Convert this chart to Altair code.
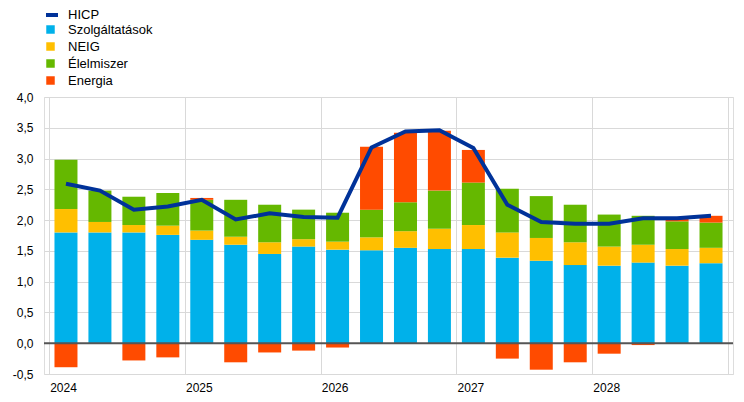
import altair as alt
import pandas as pd

quarters = ["2024Q1", "2024Q2", "2024Q3", "2024Q4",
            "2025Q1", "2025Q2", "2025Q3", "2025Q4",
            "2026Q1", "2026Q2", "2026Q3", "2026Q4",
            "2027Q1", "2027Q2", "2027Q3", "2027Q4",
            "2028Q1", "2028Q2", "2028Q3", "2028Q4"]

services = [1.80, 1.80, 1.80, 1.76, 1.68, 1.60, 1.45, 1.57, 1.52, 1.51,
            1.55, 1.53, 1.53, 1.39, 1.34, 1.27, 1.26, 1.31, 1.26, 1.30]
neig = [0.38, 0.17, 0.12, 0.15, 0.15, 0.13, 0.19, 0.12, 0.13, 0.21,
        0.27, 0.33, 0.39, 0.41, 0.37, 0.37, 0.31, 0.29, 0.27, 0.25]
food = [0.80, 0.51, 0.46, 0.53, 0.50, 0.60, 0.61, 0.48, 0.47, 0.45,
        0.47, 0.62, 0.69, 0.71, 0.68, 0.61, 0.52, 0.47, 0.45, 0.41]
energy = [-0.39, 0.00, -0.28, -0.23, 0.03, -0.31, -0.15, -0.12, -0.07, 1.02,
          1.13, 0.97, 0.53, -0.25, -0.43, -0.31, -0.17, -0.03, 0.04, 0.11]
hicp = [2.59, 2.48, 2.17, 2.22, 2.33, 2.01, 2.11, 2.05, 2.04, 3.18,
        3.44, 3.46, 3.17, 2.25, 1.97, 1.94, 1.94, 2.03, 2.03, 2.07]

comp_names = ["Szolgáltatások", "NEIG", "Élelmiszer", "Energia"]
comp_colors = ["#00B1EA", "#FFBF00", "#65B800", "#FF4B00"]
hicp_name = "HICP"
hicp_color = "#003299"

year_ticks = [2024, 2025, 2026, 2027, 2028, 2029]
y_ticks = [-0.5, 0.0, 0.5, 1.0, 1.5, 2.0, 2.5, 3.0, 3.5, 4.0]
projection_start = [2026.25]
zero_line = [0.0]

FONT = "Liberation Sans, Arial, sans-serif"


def qpos(label):
    yr = int(label[:4])
    q = int(label[-1])
    return yr + (q - 1) / 4 + 0.125


rows = []
for i, lab in enumerate(quarters):
    for k, (name, vals) in enumerate(zip(comp_names, [services, neig, food, energy])):
        rows.append({"t": qpos(lab), "comp": name, "val": vals[i], "ord": k})
bars_df = pd.DataFrame(rows)
line_df = pd.DataFrame({"t": [qpos(q) for q in quarters], "val": hicp,
                        "series": [hicp_name] * len(quarters)})

x_enc = alt.X(
    "t:Q",
    scale=alt.Scale(domain=[2024, 2029], nice=False, zero=False),
    axis=alt.Axis(
        values=year_ticks, grid=True, gridColor="#d9d9d9", gridWidth=1,
        domain=False, ticks=False,
        labelExpr="datum.value == 2029 ? '' : toString(datum.value)",
        labelOffset=14, labelFlush=False, labelOverlap=False,
        labelPadding=8, labelFontSize=12, labelColor="#000", labelFont=FONT,
        title=None,
    ),
)
y_axis = alt.Axis(
    values=y_ticks, grid=True, gridColor="#d9d9d9", gridWidth=1,
    domain=False, ticks=False,
    labelExpr="replace(replace(format(datum.value, '.1f'), '−', '-'), '.', ',')",
    labelPadding=11, labelFontSize=12, labelColor="#000", labelFont=FONT,
    title=None,
)
y_scale = alt.Scale(domain=[-0.5, 4.0], nice=False)

bars = alt.Chart(bars_df).mark_bar(width=23).encode(
    x=x_enc,
    y=alt.Y("val:Q", stack="zero", scale=y_scale, axis=y_axis),
    color=alt.Color(
        "comp:N",
        scale=alt.Scale(domain=comp_names, range=comp_colors),
        legend=alt.Legend(
            orient="none", legendX=0, legendY=-74, title=None,
            symbolType="square", symbolSize=72, symbolStrokeWidth=0,
            labelFontSize=13, labelFont=FONT, labelColor="#000",
            labelOffset=11, rowPadding=3, padding=0,
        ),
    ),
    order=alt.Order("ord:Q"),
)

zero_rule = alt.Chart(pd.DataFrame({"y": zero_line})).mark_rule(
    color="#555555", strokeWidth=2
).encode(y=alt.Y("y:Q", scale=y_scale, axis=y_axis))

vline = alt.Chart(pd.DataFrame({"x": projection_start})).mark_rule(
    color="#555555", strokeWidth=2
).encode(x=x_enc)

line = alt.Chart(line_df).mark_line(strokeWidth=4).encode(
    x=x_enc,
    y=alt.Y("val:Q", scale=y_scale, axis=y_axis),
    stroke=alt.Stroke(
        "series:N",
        scale=alt.Scale(domain=[hicp_name], range=[hicp_color]),
        legend=alt.Legend(
            orient="none", legendX=0, legendY=-90, title=None,
            symbolType="stroke", symbolSize=144, symbolStrokeWidth=4,
            labelFontSize=13, labelFont=FONT, labelColor="#000",
            labelOffset=8, padding=0,
        ),
    ),
)

chart = alt.layer(bars, zero_rule, vline, line).resolve_scale(
    color="independent", stroke="independent"
).properties(
    width=689, height=277,
    autosize=alt.AutoSizeParams(type="none"),
    padding={"left": 36, "top": 89, "right": 3, "bottom": 20},
).configure_view(stroke=None).configure(font=FONT)

chart.save("out.html", embed_options={"renderer": "svg", "actions": False})
